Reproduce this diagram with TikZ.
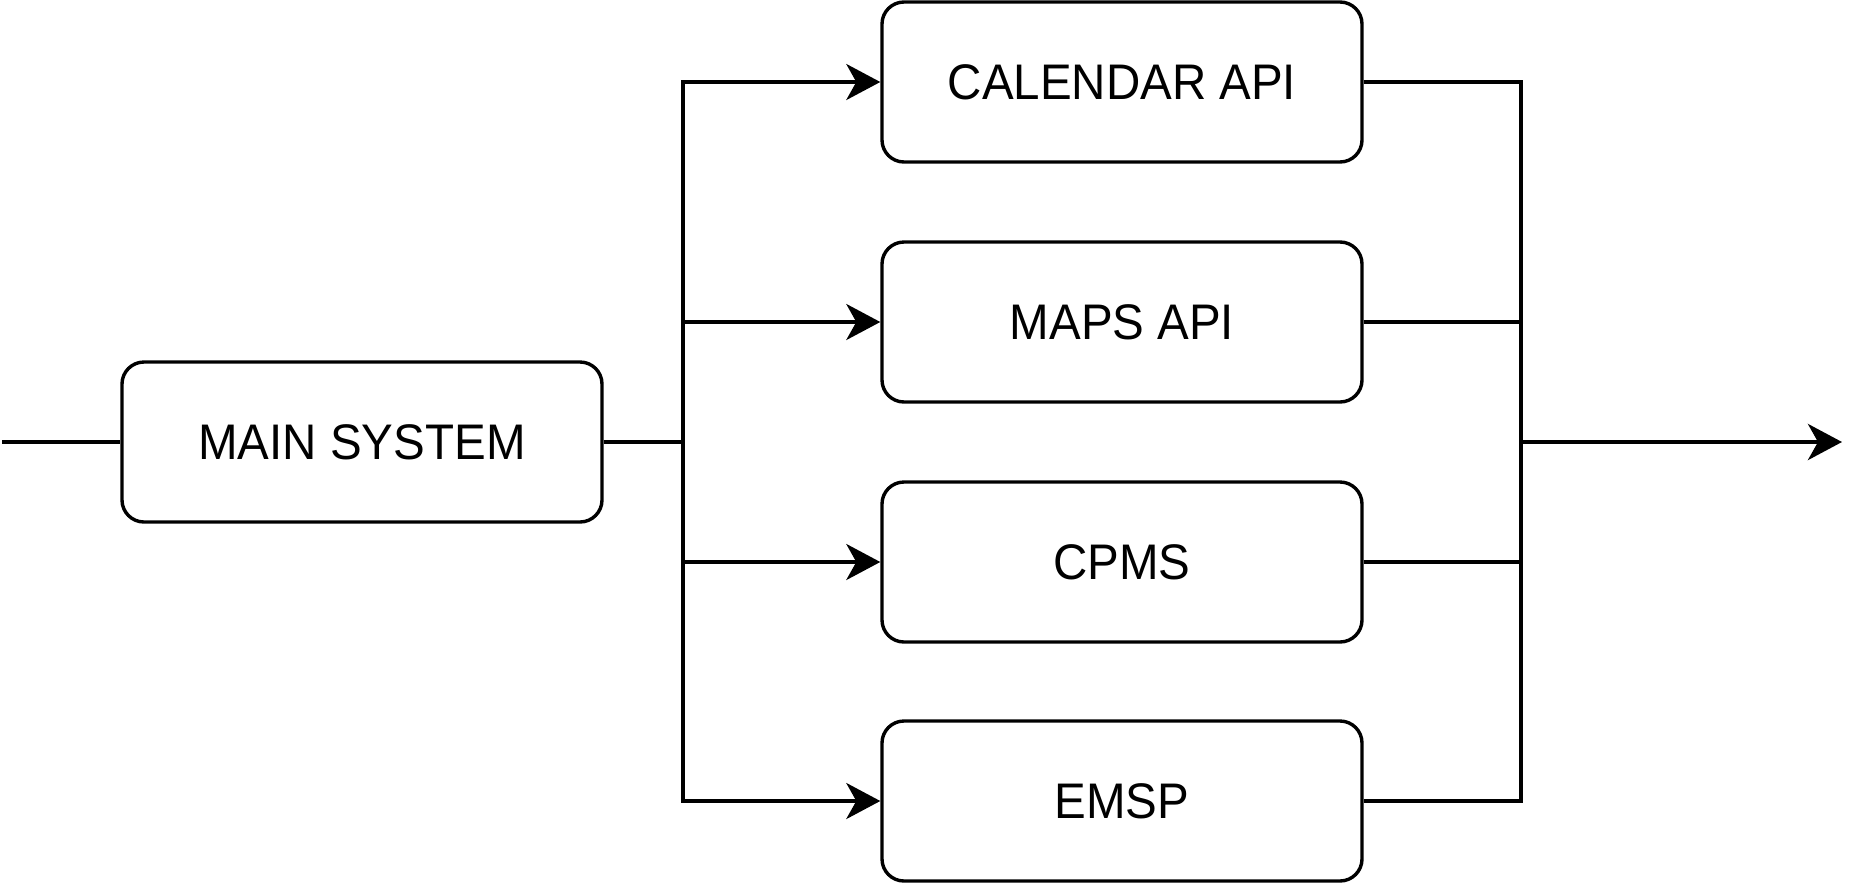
\documentclass[tikz,border=0pt]{standalone}
\usepackage{fontspec}
\setmainfont{Liberation Sans}
\newfontfamily\lblfont[FakeStretch=0.95]{Liberation Sans}
\usetikzlibrary{arrows.meta}
\begin{document}
\begin{tikzpicture}[x=1pt,y=-1pt,
  box/.style={draw=black, line width=3.4pt, rounded corners=22pt, minimum width=480pt, minimum height=160pt, inner sep=0pt, font=\lblfont\fontsize{50}{60}\selectfont, text=black},
  conn/.style={draw=black, line width=3.6pt},
  thick conn/.style={draw=black, line width=4.4pt},
  arr/.style={conn, -{Stealth[length=34pt, width=36pt, inset=10pt]}}]
\useasboundingbox (0,0) rectangle (1876,884);
\node[box] (main) at (362,442) {MAIN SYSTEM};
\node[box] (cal) at (1122,82) {CALENDAR API};
\node[box] (maps) at (1122,322) {MAPS API};
\node[box] (cpms) at (1122,562) {CPMS};
\node[box] (emsp) at (1122,801) {EMSP};
\coordinate (in) at (2,442);
\coordinate (lb) at (683,442);
\coordinate (rb) at (1521,442);
\coordinate (out) at (1842,442);
\draw[conn] (in) -- (main.west);
\draw[thick conn] (main.east) -- (lb);
\draw[arr] (lb) |- (cal.west);
\draw[arr] (lb) |- (maps.west);
\draw[arr] (lb) |- (cpms.west);
\draw[arr] (lb) |- (emsp.west);
\draw[conn] (cal.east) -| (rb);
\draw[conn] (maps.east) -| (rb);
\draw[conn] (cpms.east) -| (rb);
\draw[conn] (emsp.east) -| (rb);
\draw[thick conn, -{Stealth[length=34pt, width=36pt, inset=10pt]}] (rb) -- (out);
\end{tikzpicture}
\end{document}
